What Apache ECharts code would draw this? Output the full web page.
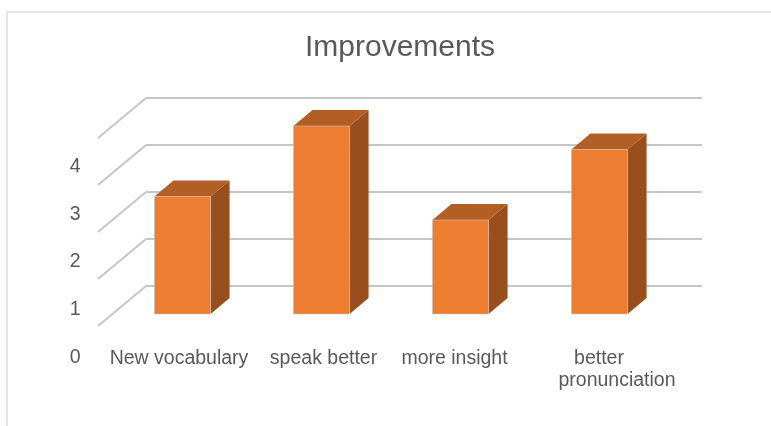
<!DOCTYPE html>
<html>
<head>
<meta charset="utf-8">
<title>Improvements</title>
<script src="https://cdn.jsdelivr.net/npm/echarts@6/dist/echarts.min.js"></script>
<style>
	html,body{margin:0;padding:0;background:#fff;}
	#chart{width:771px;height:426px;}
</style>
</head>
<body>
<div id="chart"></div>
<script>
/* data */
var chartTitle = "Improvements";
var categories = ["New vocabulary", "speak better", "more insight", "better\npronunciation"];
var improvementValues = [2.5, 4, 2, 3.5];
var tickLabels = [0, 1, 2, 3, 4];

/* offset of the front of the 3D box from the back wall, and depth of one bar */
var wallDx = -48, wallDy = 40;
var barDx = -33, barDy = 28;
var sideDx = 19, sideDy = -16;

var textColor = "#595959";
var gridColor = "#c6c6c6";
var labelSize = 19.5;

var myChart = echarts.init(document.getElementById("chart"));

/* slanted lines on the left wall, one per tick */
function renderWall(params, api){
	var p = api.coord([0, api.value(1)]);
	var x = params.coordSys.x;
	return {
		type: "line",
		shape: {x1: x, y1: p[1], x2: x + wallDx, y2: p[1] + wallDy},
		style: {stroke: gridColor, lineWidth: 2}
	};
}

/* one bar: front, top and side faces */
function renderBar(params, api){
	var top = api.coord([api.value(0), api.value(1)]);
	var base = api.coord([api.value(0), 0]);
	var w = api.size([1, 0])[0] * 0.404;
	var x0 = top[0] + barDx - w / 2;
	var x1 = x0 + w;
	var y0 = top[1] + barDy;
	var y1 = base[1] + barDy;
	return {
		type: "group",
		children: [
			{type: "polygon", shape: {points: [[x1, y0], [x1 + sideDx, y0 + sideDy], [x1 + sideDx, y1 + sideDy], [x1, y1]]}, style: {fill: "#984f1d"}},
			{type: "polygon", shape: {points: [[x0, y0], [x0 + sideDx, y0 + sideDy], [x1 + sideDx, y0 + sideDy], [x1, y0]]}, style: {fill: "#b35e24"}},
			{type: "rect", shape: {x: x0, y: y0, width: w, height: y1 - y0}, style: {fill: "#ed7d31", stroke: "#c9c4bf", lineWidth: 0.6}}
		]
	};
}

var option = {
	animation: false,
	backgroundColor: "#fff",
	title: {
		text: chartTitle,
		left: 300,
		top: 28,
		textStyle: {color: textColor, fontFamily: "Liberation Sans", fontSize: 30, fontWeight: "normal"}
	},
	graphic: [{
		// panel edge of the screenshot
		type: "polyline",
		shape: {points: [[7, 426], [7, 12], [771, 12]]},
		style: {stroke: "#e6e6e6", lineWidth: 2, fill: null},
		silent: true
	}],
	grid: [
		{left: 146, top: 98, width: 556, height: 188},
		{left: 112.5, top: 166.5, width: 556, height: 191}
	],
	xAxis: [
		{type: "category", gridIndex: 0, data: categories, axisLine: {show: false}, axisTick: {show: false}, axisLabel: {show: false}},
		{
			type: "category",
			gridIndex: 1,
			data: categories,
			axisLine: {show: false},
			axisTick: {show: false},
			axisLabel: {
				interval: 0,
				margin: -10,
				color: textColor,
				fontFamily: "Liberation Sans",
				fontSize: labelSize,
				lineHeight: 22,
				formatter: function(v, i){
					if(i == 3){
						return "{a|better}\n{b|pronunciation}";
					}
					return "{c" + i + "|" + v + "}";
				},
				rich: {
					a: {fontSize: labelSize, color: textColor, lineHeight: 22, align: "center"},
					b: {fontSize: labelSize, color: textColor, lineHeight: 22, padding: [0, 0, 0, 36]},
					c0: {fontSize: labelSize, color: textColor, padding: [0, 6, 0, 0]},
					c1: {fontSize: labelSize, color: textColor, padding: [0, 0, 0, 5]},
					c2: {fontSize: labelSize, color: textColor, padding: [0, 11, 0, 0]}
				}
			}
		}
	],
	yAxis: [
		{
			type: "value",
			gridIndex: 0,
			min: tickLabels[0],
			max: tickLabels[tickLabels.length - 1],
			interval: 1,
			axisLine: {show: false},
			axisTick: {show: false},
			axisLabel: {show: false},
			splitLine: {lineStyle: {color: gridColor, width: 2}}
		},
		{
			type: "value",
			gridIndex: 1,
			min: tickLabels[0],
			max: tickLabels[tickLabels.length - 1],
			interval: 1,
			axisLine: {show: false},
			axisTick: {show: false},
			splitLine: {show: false},
			axisLabel: {margin: 32, color: textColor, fontFamily: "Liberation Sans", fontSize: labelSize}
		}
	],
	series: [
		{
			name: "wall",
			type: "custom",
			xAxisIndex: 0,
			yAxisIndex: 0,
			clip: false,
			z: 2,
			renderItem: renderWall,
			data: tickLabels.map(function(v){ return [0, v]; })
		},
		{
			name: chartTitle,
			type: "custom",
			xAxisIndex: 0,
			yAxisIndex: 0,
			clip: false,
			z: 3,
			renderItem: renderBar,
			data: improvementValues.map(function(v, i){ return [i, v]; })
		}
	]
};
myChart.setOption(option);
</script>
</body>
</html>
